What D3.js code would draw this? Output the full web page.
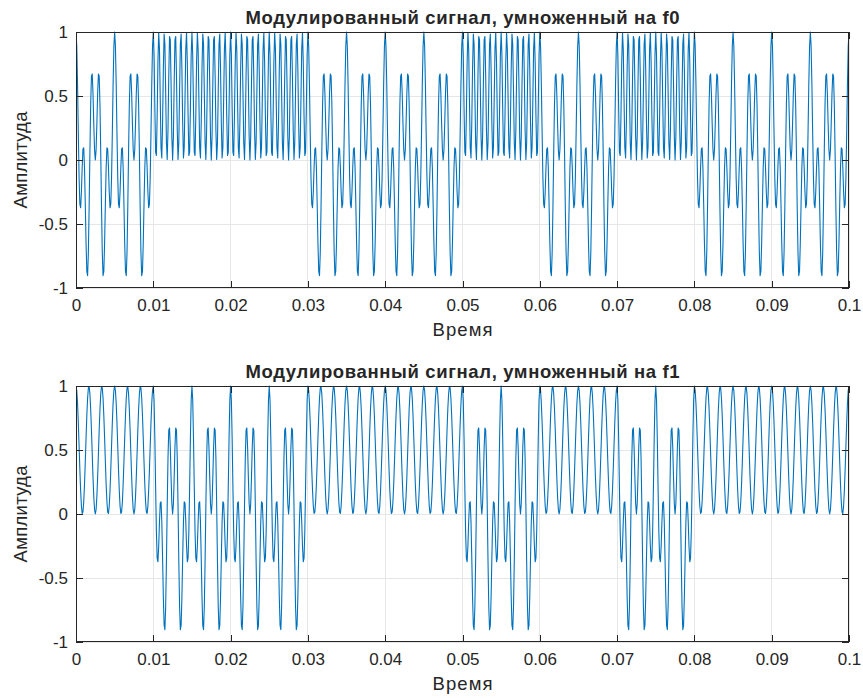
<!DOCTYPE html>
<html>
<head>
<meta charset="utf-8">
<script src="https://cdn.jsdelivr.net/npm/d3@7"></script>
<style>
  html, body { margin: 0; padding: 0; background: #fff; }
  svg { display: block; }
  text { font-family: "Liberation Sans", Arial, Helvetica, sans-serif; fill: #262626; }
</style>
</head>
<body>
<svg id="fig" width="863" height="698"></svg>
<script>
// Bit sequence carried by the FSK signal (one bit per 10 ms)
const bits = [1, 0, 0, 1, 1, 0, 1, 0, 1, 1];
// Carrier frequencies (Hz): bit 0 -> f0, bit 1 -> f1
const carrierFreqs = [700, 300];
const sampleRate = 10000;
const bitDuration = 0.01;
const panelTitles = ["Модулированный сигнал, умноженный на f0", "Модулированный сигнал, умноженный на f1"];
const xTicks = [0, 0.01, 0.02, 0.03, 0.04, 0.05, 0.06, 0.07, 0.08, 0.09, 0.1];
const yTicks = [-1, -0.5, 0, 0.5, 1];
const xLabel = "Время";
const yLabel = "Амплитуда";

// Sample times and the FSK-modulated signal
const nSamples = Math.round(bits.length * bitDuration * sampleRate) + 1;
const times = d3.range(nSamples).map(i => i / sampleRate);
const bitAt = t => bits[Math.min(bits.length - 1, Math.floor(t / bitDuration + 1e-9))];
const modulated = times.map(t => Math.cos(2 * Math.PI * carrierFreqs[bitAt(t)] * t));
// Product with each reference carrier
const products = carrierFreqs.map(f =>
  times.map((t, i) => modulated[i] * Math.cos(2 * Math.PI * f * t)));

const svg = d3.select("#fig");
const axisColor = "#262626";
const lineColor = "#0072BD";
const left = 76, right = 849;
const panelTops = [32, 386];
const panelHeight = 256;
const fmt = d => String(d);

panelTitles.forEach((title, p) => {
  const top = panelTops[p], bottom = top + panelHeight;
  const x = d3.scaleLinear().domain([0, 0.1]).range([left, right]);
  const y = d3.scaleLinear().domain([-1, 1]).range([bottom, top]);
  const g = svg.append("g");

  // grid
  g.append("g").selectAll("line").data(xTicks).join("line")
    .attr("x1", d => x(d)).attr("x2", d => x(d))
    .attr("y1", top).attr("y2", bottom)
    .attr("stroke", "#e6e6e6").attr("stroke-width", 1)
    .attr("shape-rendering", "crispEdges");
  g.append("g").selectAll("line").data(yTicks).join("line")
    .attr("x1", left).attr("x2", right)
    .attr("y1", d => y(d)).attr("y2", d => y(d))
    .attr("stroke", "#e6e6e6").attr("stroke-width", 1)
    .attr("shape-rendering", "crispEdges");

  // signal
  const clipId = "clip" + p;
  g.append("clipPath").attr("id", clipId).append("rect")
    .attr("x", left).attr("y", top - 1).attr("width", right - left).attr("height", panelHeight + 2);
  const line = d3.line().x((d, i) => x(times[i])).y(d => y(d));
  g.append("path").datum(products[p])
    .attr("clip-path", `url(#${clipId})`)
    .attr("d", line)
    .attr("fill", "none").attr("stroke", lineColor).attr("stroke-width", 1.1)
    .attr("stroke-linejoin", "round");

  // axes with inward ticks
  const tickLen = 7;
  const xAxisB = d3.axisBottom(x).tickValues(xTicks).tickSizeInner(-tickLen).tickSizeOuter(0)
    .tickFormat(fmt).tickPadding(11);
  const xAxisT = d3.axisTop(x).tickValues(xTicks).tickSizeInner(-tickLen).tickSizeOuter(0).tickFormat("");
  const yAxisL = d3.axisLeft(y).tickValues(yTicks).tickSizeInner(-tickLen).tickSizeOuter(0)
    .tickFormat(fmt).tickPadding(8);
  const yAxisR = d3.axisRight(y).tickValues(yTicks).tickSizeInner(-tickLen).tickSizeOuter(0).tickFormat("");

  const axes = [
    g.append("g").attr("transform", `translate(0,${bottom})`).call(xAxisB),
    g.append("g").attr("transform", `translate(0,${top})`).call(xAxisT),
    g.append("g").attr("transform", `translate(${left},0)`).call(yAxisL),
    g.append("g").attr("transform", `translate(${right},0)`).call(yAxisR)
  ];
  axes.forEach(a => {
    a.select(".domain").remove();
    a.selectAll("line").attr("stroke", axisColor).attr("stroke-width", 1).attr("shape-rendering", "crispEdges");
    a.selectAll("text").attr("font-size", 17).attr("fill", axisColor)
      .attr("font-family", "'Liberation Sans', Arial, sans-serif");
  });

  // box
  g.append("rect").attr("x", left + 0.5).attr("y", top + 0.5)
    .attr("width", right - left - 1).attr("height", panelHeight - 1)
    .attr("fill", "none").attr("stroke", axisColor).attr("stroke-width", 1)
    .attr("shape-rendering", "crispEdges");

  // labels
  g.append("text").attr("x", (left + right) / 2).attr("y", top - 8)
    .attr("text-anchor", "middle").attr("font-size", 18.5).attr("font-weight", "bold")
    .attr("textLength", 434).attr("lengthAdjust", "spacing")
    .attr("fill", "#000").text(title);
  g.append("text").attr("x", (left + right) / 2).attr("y", bottom + 48)
    .attr("text-anchor", "middle").attr("font-size", 18.5)
    .attr("textLength", 60).attr("lengthAdjust", "spacing").text(xLabel);
  g.append("text").attr("transform", `translate(27,${(top + bottom) / 2}) rotate(-90)`)
    .attr("text-anchor", "middle").attr("font-size", 18.5)
    .attr("textLength", 97).attr("lengthAdjust", "spacing").text(yLabel);
});
</script>
</body>
</html>
